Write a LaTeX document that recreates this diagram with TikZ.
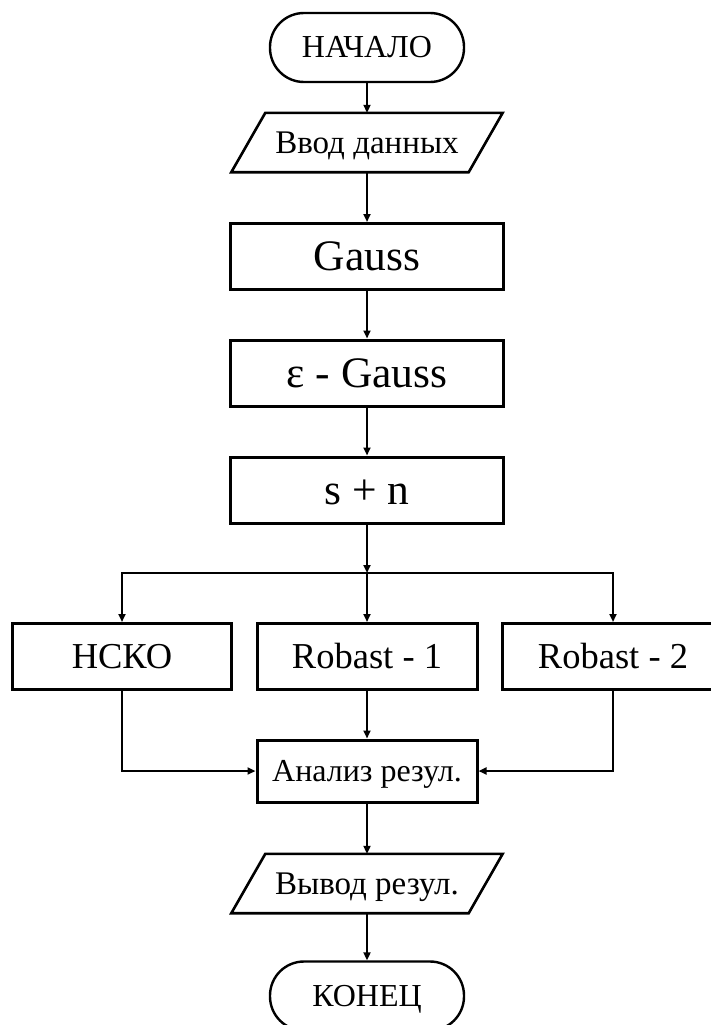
\documentclass[tikz,border=0pt]{standalone}
\usepackage{fontspec}
\setmainfont{Liberation Serif}
\usetikzlibrary{arrows.meta}
\tikzset{
  blok/.style={draw, line width=3pt, inner sep=0pt, text height=28.7pt, text depth=0pt, minimum width=273pt, minimum height=66pt, font=\fontsize{43.5}{44}\selectfont},
  malblok/.style={blok, text height=24pt, minimum width=219pt, font=\fontsize{36.5}{37}\selectfont},
  term/.style={draw, line width=2.4pt, inner sep=0pt, text height=21pt, text depth=0pt, rounded corners=34pt, minimum width=194pt, minimum height=69pt, font=\fontsize{32}{32}\selectfont},
  vvod/.style={inner sep=0pt, text height=21.8pt, text depth=0pt, minimum width=237pt, minimum height=59pt, font=\fontsize{33}{33}\selectfont},
  ramka/.style={line width=2.6pt, line join=miter},
  strelka/.style={-{Triangle[length=8pt,width=7pt]}, line width=2.2pt},
}
\begin{document}
\begin{tikzpicture}[x=1pt,y=-1pt]
  \useasboundingbox (0,0) rectangle (711,1025);
  \clip (0,0) rectangle (711,1025);

  % основная колонка
  \node[term] (nachalo) at (367,47.5) {НАЧАЛО};
  \node[vvod] (vvoddan) at (367,142.5) {Ввод данных};
  \draw[ramka] ([xshift=-17pt]vvoddan.south west) -- ([xshift=17pt]vvoddan.north west)
    -- ([xshift=17pt]vvoddan.north east) -- ([xshift=-17pt]vvoddan.south east) -- cycle;
  \node[blok] (gauss) at (367,256.5) {Gauss};
  \node[blok] (egauss) at (367,373) {ε - Gauss};
  \node[blok] (sn) at (367,490) {s + n};
  \coordinate (razv) at (367,573);

  % три ветви
  \node[malblok] (nsko) at (122,656.5) {НСКО};
  \node[malblok, minimum width=220pt] (rob1) at (367,656.5) {Robast - 1};
  \node[malblok, minimum width=222pt] (rob2) at (613,656.5) {Robast - 2};
  \node[blok, text height=21pt, minimum width=220pt, minimum height=62pt, font=\fontsize{32}{32}\selectfont] (analiz) at (367,771) {Анализ резул.};

  % вывод и конец
  \node[vvod] (vyvod) at (367,883.5) {Вывод резул.};
  \draw[ramka] ([xshift=-17pt]vyvod.south west) -- ([xshift=17pt]vyvod.north west)
    -- ([xshift=17pt]vyvod.north east) -- ([xshift=-17pt]vyvod.south east) -- cycle;
  \node[term] (konec) at (367,996) {КОНЕЦ};

  % связи
  \draw[strelka] (nachalo) -- (vvoddan);
  \draw[strelka] (vvoddan) -- (gauss);
  \draw[strelka] (gauss) -- (egauss);
  \draw[strelka] (egauss) -- (sn);
  \draw[strelka] (sn) -- (razv);
  \draw[strelka] (razv) -| (nsko);
  \draw[strelka] (razv) -- (rob1);
  \draw[strelka] (razv) -| (rob2);
  \draw[strelka] (nsko.south) |- (analiz.west);
  \draw[strelka] (rob1) -- (analiz);
  \draw[strelka] (rob2.south) |- (analiz.east);
  \draw[strelka] (analiz) -- (vyvod);
  \draw[strelka] (vyvod) -- (konec);
\end{tikzpicture}
\end{document}
